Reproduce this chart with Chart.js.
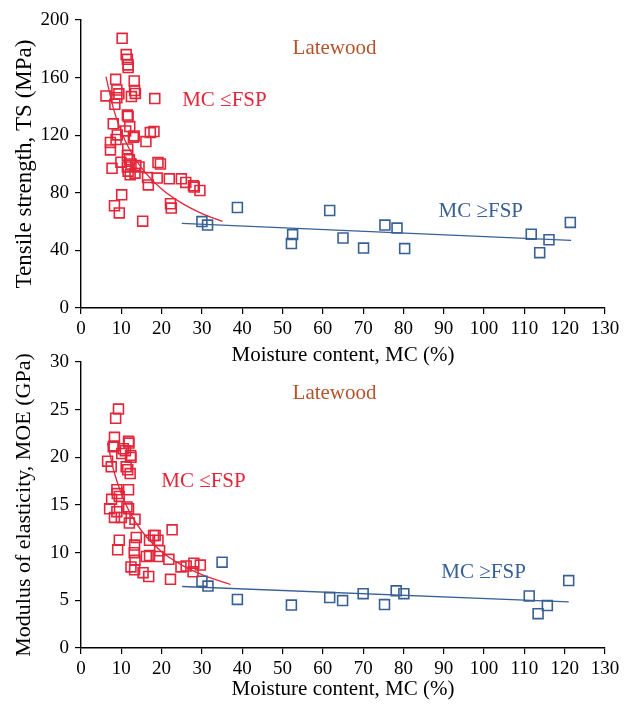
<!DOCTYPE html>
<html>
<head>
<meta charset="utf-8">
<script src="https://cdn.jsdelivr.net/npm/chart.js@4"></script>
<style>
  body { margin: 0; background: #fff; }
  #wrap { position: relative; width: 638px; height: 707px; }
  canvas { position: absolute; left: 0; }
  #tsChart { top: 0; }
  #moeChart { top: 340px; }
</style>
</head>
<body>
<div id="wrap">
  <canvas id="tsChart" width="638" height="370"></canvas>
  <canvas id="moeChart" width="638" height="367"></canvas>
</div>
<script>
// Tensile strength, MC <= FSP
const tsRedMC = [10.2, 11.2, 11.5, 11.7, 11.7, 8.6, 13.2, 8.9, 9.4, 8.9, 13.3, 13.5, 6.2, 12.5, 18.3, 8.4, 11.5, 11.7, 8.0, 12.1, 11.1, 17.2, 18.1, 9.0, 13.2, 13.0, 8.7, 16.1, 7.3, 7.3, 11.6, 11.5, 12.0, 19.1, 19.7, 9.9, 12.4, 13.6, 14.4, 7.7, 11.5, 11.7, 12.2, 13.4, 16.5, 16.7, 18.9, 21.9, 24.9, 26.0, 27.9, 28.1, 29.5, 10.1, 8.3, 22.2, 22.4, 9.5, 15.3];
const tsRedTS = [187.3, 176, 172.7, 168.8, 167, 158.8, 157.7, 151.4, 148.7, 146, 151, 149, 147.3, 146.8, 145.4, 141.5, 134, 133, 127.9, 126, 123, 121.8, 122.5, 120.2, 119.5, 118.5, 117, 115.6, 115, 109.8, 110.5, 106, 103, 101, 100, 101.3, 100, 99, 98, 97, 98, 95, 92.5, 93.6, 90.6, 85.5, 90.2, 89.7, 89.7, 87.2, 84.9, 84, 81.6, 78.6, 71, 72.4, 69.4, 66, 60.3];
// Tensile strength, MC >= FSP
const tsBlueMC = [30, 31.4, 38.8, 52.5, 52.2, 61.7, 65, 70.1, 75.4, 78.4, 80.3, 111.7, 113.8, 116.1, 121.4];
const tsBlueTS = [60, 57.6, 69.8, 51, 44.8, 67.7, 48.6, 41.6, 57.6, 55.5, 41.3, 51.3, 38.4, 47.4, 59.4];
// trend lines
const tsRedFitMC = [6.2, 8, 10, 12, 15, 20, 25, 30, 35.1];
const tsRedFitTS = [160.7, 139, 122.4, 110.4, 97.3, 82.6, 72.8, 65.6, 60.1];
const tsBlueFitMC = [25, 121.6];
const tsBlueFitTS = [58.7, 46.9];

// MOE, MC <= FSP
const moeRedMC = [9.3, 8.6, 8.3, 8.2, 8.0, 11.8, 11.9, 10.5, 11.0, 10.1, 12.3, 12.4, 6.6, 7.5, 11.2, 11.6, 12.2, 11.8, 8.9, 9.0, 9.5, 7.6, 7.1, 8.9, 11.4, 11.8, 8.3, 10.0, 12.0, 13.4, 9.5, 9.1, 13.7, 13.3, 13.2, 13.4, 12.4, 13.3, 15.4, 16.8, 16.2, 17.0, 18.0, 18.4, 17.0, 19.1, 19.5, 19.1, 22.6, 21.8, 22.2, 24.8, 26.1, 28.0, 29.6, 27.8];
const moeRedVal = [25.06, 24.1, 22.1, 21.2, 21.1, 21.7, 21.5, 20.9, 20.7, 20.4, 20.2, 20.0, 19.6, 19.0, 19.0, 18.7, 18.3, 16.6, 16.6, 16.2, 15.9, 15.6, 14.6, 14.3, 14.8, 14.6, 13.7, 13.7, 13.1, 13.5, 11.3, 10.3, 11.6, 10.8, 10.0, 9.2, 8.5, 8.2, 7.9, 7.5, 9.6, 9.7, 11.8, 11.8, 11.3, 11.3, 10.2, 9.6, 12.4, 9.3, 7.2, 8.5, 8.6, 8.9, 8.7, 8.0];
// MOE, MC >= FSP
const moeBlueMC = [30, 31.5, 35, 38.8, 52.2, 61.7, 64.9, 70, 75.3, 78.2, 80.1, 111.2, 113.4, 115.7, 121];
const moeBlueVal = [7.0, 6.5, 9.0, 5.1, 4.5, 5.29, 4.97, 5.7, 4.55, 6.0, 5.7, 5.46, 3.6, 4.45, 7.07];
const moeRedFitMC = [6.6, 8, 10, 12, 15, 20, 25, 30, 37.1];
const moeRedFitVal = [21.5, 18.8, 16.2, 14.3, 12.3, 10.1, 8.7, 7.7, 6.66];
const moeBlueFitMC = [25.1, 121];
const moeBlueFitVal = [6.45, 4.83];

const RED = '#E3263A';
const BLUE = '#386095';
const BROWN = '#B5532C';
const FONT = "'Liberation Serif', 'DejaVu Serif', serif";

const toPoints = (xs, ys) => xs.map((x, i) => ({ x: x, y: ys[i] }));

// draws the text notes at data coordinates
const notesPlugin = {
    id: 'notes',
    afterDatasetsDraw(chart, args, opts) {
        const { ctx, scales } = chart;
        ctx.save();
        ctx.font = '21px ' + FONT;
        ctx.textBaseline = 'middle';
        opts.items.forEach(n => {
            ctx.fillStyle = n.color;
            ctx.textAlign = n.align;
            ctx.fillText(n.text, scales.x.getPixelForValue(n.x), scales.y.getPixelForValue(n.y));
        });
        ctx.restore();
    }
};

function makeChart(id, cfg) {
    return new Chart(document.getElementById(id), {
        type: 'scatter',
        data: {
            datasets: [
                {
                    data: toPoints(cfg.redX, cfg.redY),
                    pointStyle: 'rect', pointRadius: 7, borderWidth: 1.6,
                    borderColor: RED, backgroundColor: 'rgba(0,0,0,0)'
                },
                {
                    data: toPoints(cfg.blueX, cfg.blueY),
                    pointStyle: 'rect', pointRadius: 7, borderWidth: 1.6,
                    borderColor: BLUE, backgroundColor: 'rgba(0,0,0,0)'
                },
                {
                    type: 'line',
                    data: toPoints(cfg.redFitX, cfg.redFitY),
                    borderColor: RED, borderWidth: 1.3, pointRadius: 0,
                    cubicInterpolationMode: 'monotone', fill: false
                },
                {
                    type: 'line',
                    data: toPoints(cfg.blueFitX, cfg.blueFitY),
                    borderColor: BLUE, borderWidth: 1.3, pointRadius: 0, fill: false
                }
            ]
        },
        options: {
            responsive: false,
            animation: false,
            layout: { padding: { top: cfg.padTop, right: 33, bottom: 0, left: 0 } },
            plugins: {
                legend: { display: false },
                tooltip: { enabled: false },
                notes: { items: cfg.notes }
            },
            scales: {
                x: {
                    type: 'linear', min: 0, max: 130,
                    afterFit: s => { s.height = cfg.xAxisH; },
                    border: { color: '#000', width: 1.4 },
                    grid: { drawOnChartArea: false, color: '#000', lineWidth: 1.2, tickLength: 6 },
                    ticks: { stepSize: 10, color: '#000', padding: 4, font: { family: FONT, size: 19 } },
                    title: {
                        display: true, text: 'Moisture content, MC (%)', color: '#000',
                        font: { family: FONT, size: 21 }, padding: { top: 0, bottom: cfg.xTitlePad }
                    }
                },
                y: {
                    type: 'linear', min: 0, max: cfg.yMax,
                    afterFit: s => { s.width = 81; },
                    border: { color: '#000', width: 1.4 },
                    grid: { drawOnChartArea: false, color: '#000', lineWidth: 1.2, tickLength: 6 },
                    ticks: { stepSize: cfg.yStep, color: '#000', padding: 6, font: { family: FONT, size: 19 } },
                    title: {
                        display: true, text: cfg.yTitle, color: '#000',
                        font: { family: FONT, size: cfg.yTitleSize }, padding: { top: 11, bottom: 0 }
                    }
                }
            }
        },
        plugins: [notesPlugin]
    });
}

makeChart('tsChart', {
    redX: tsRedMC, redY: tsRedTS, blueX: tsBlueMC, blueY: tsBlueTS,
    redFitX: tsRedFitMC, redFitY: tsRedFitTS, blueFitX: tsBlueFitMC, blueFitY: tsBlueFitTS,
    yMax: 200, yStep: 40, yTitle: 'Tensile strength, TS (MPa)', yTitleSize: 23,
    padTop: 20, xAxisH: 62, xTitlePad: 2,
    notes: [
        { text: 'Latewood', x: 62.9, y: 180.5, color: BROWN, align: 'center' },
        { text: 'MC \u2264FSP', x: 25.1, y: 143.8, color: RED, align: 'left' },
        { text: 'MC \u2265FSP', x: 88.7, y: 66.8, color: BLUE, align: 'left' }
    ]
});

makeChart('moeChart', {
    redX: moeRedMC, redY: moeRedVal, blueX: moeBlueMC, blueY: moeBlueVal,
    redFitX: moeRedFitMC, redFitY: moeRedFitVal, blueFitX: moeBlueFitMC, blueFitY: moeBlueFitVal,
    yMax: 30, yStep: 5, yTitle: 'Modulus of elasticity, MOE (GPa)', yTitleSize: 22,
    padTop: 22, xAxisH: 59, xTitlePad: 5,
    notes: [
        { text: 'Latewood', x: 62.9, y: 26.7, color: BROWN, align: 'center' },
        { text: 'MC \u2264FSP', x: 19.9, y: 17.5, color: RED, align: 'left' },
        { text: 'MC \u2265FSP', x: 89.4, y: 7.9, color: BLUE, align: 'left' }
    ]
});
</script>
</body>
</html>
